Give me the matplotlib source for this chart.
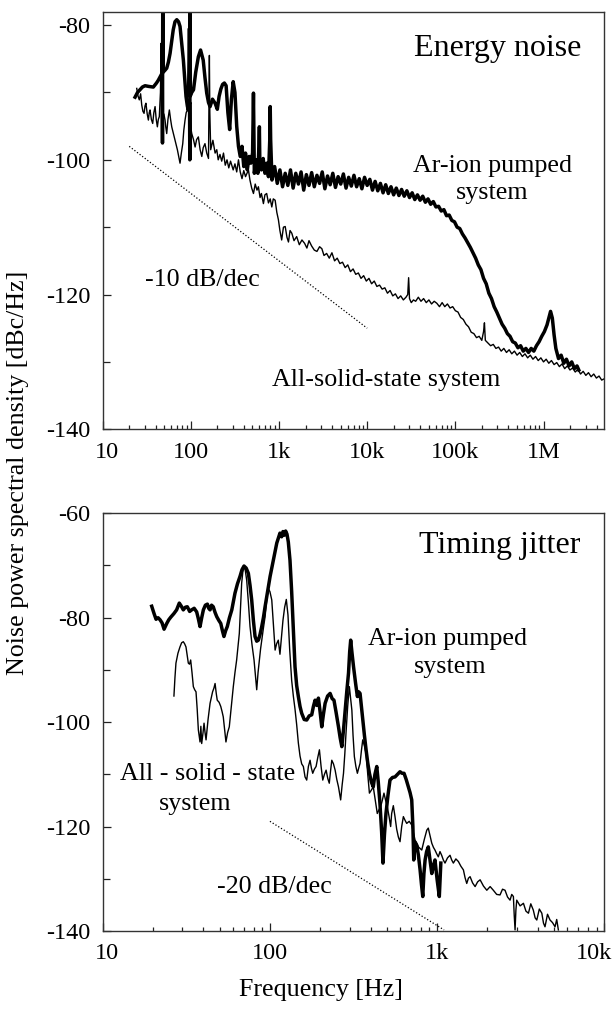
#!/usr/bin/env python
# coding: utf-8

'''
Energy noise and timing jitter spectra of the Ar-ion pumped and the
all-solid-state laser systems, two stacked log-frequency panels.

Values were read off the original figure by eye.
Frequencies are kept as log10(f/Hz), levels in dBc/Hz.
'''

import numpy as np
import matplotlib
matplotlib.use('Agg')
import matplotlib.pyplot as plt
import matplotlib.transforms as mtransforms
from matplotlib.ticker import FixedLocator, NullFormatter

plt.rcParams['font.family'] = ['Liberation Serif', 'DejaVu Serif']
plt.rcParams['axes.unicode_minus'] = False

# ---------------- energy noise, Ar-ion pumped (thick) ----------------
en_ar_logf = [1.367, 1.395, 1.423, 1.45, 1.48, 1.52, 1.574, 1.61, 1.63, 1.65, 1.675, 1.678, 1.681, 1.684,
              1.70, 1.726, 1.745, 1.764, 1.782, 1.80, 1.82, 1.84, 1.86, 1.877, 1.895, 1.915, 1.93, 1.945,
              1.96, 1.97, 1.985, 1.988, 1.991, 1.994, 2.01, 2.03, 2.055, 2.085, 2.11, 2.14, 2.16, 2.18,
              2.20, 2.218, 2.245, 2.275, 2.30, 2.32, 2.34, 2.36, 2.38, 2.40, 2.42, 2.44, 2.46, 2.48, 2.50,
              2.52, 2.54, 2.56, 2.58, 2.60, 2.62, 2.64, 2.66, 2.68, 2.70, 2.705, 2.71, 2.715, 2.72, 2.74,
              2.76, 2.772, 2.777, 2.782, 2.80, 2.82, 2.84, 2.86, 2.88, 2.895, 2.90, 2.905, 2.92,
              2.95, 2.98, 3.01, 3.04, 3.07, 3.10, 3.13, 3.16, 3.19, 3.22, 3.25, 3.28, 3.31, 3.34, 3.37,
              3.40, 3.43, 3.46, 3.49, 3.52, 3.55, 3.58, 3.61, 3.64, 3.67, 3.70, 3.73, 3.76, 3.79, 3.82,
              3.85, 3.88, 3.91, 3.94, 3.97, 4.00, 4.03, 4.06, 4.09, 4.12, 4.15, 4.18, 4.21, 4.24, 4.27,
              4.30, 4.33, 4.36, 4.39, 4.42, 4.45, 4.48, 4.51, 4.54, 4.57, 4.60, 4.63, 4.66, 4.69, 4.72,
              4.75, 4.78, 4.81, 4.84, 4.87, 4.90, 4.93, 4.96, 4.99, 5.02, 5.05, 5.08, 5.11, 5.14, 5.17,
              5.20, 5.23, 5.26, 5.29, 5.32, 5.35, 5.38, 5.41, 5.44, 5.47, 5.50, 5.53, 5.56, 5.59, 5.62,
              5.65, 5.68, 5.71, 5.74, 5.77, 5.80, 5.83, 5.86, 5.89, 5.92, 5.95, 5.98, 6.01, 6.04, 6.06,
              6.08, 6.10, 6.12, 6.14, 6.17, 6.20, 6.23, 6.26, 6.29, 6.32, 6.35, 6.38, 6.40]
en_ar_db = [-90.7, -90.0, -89.6, -89.2, -89.0, -89.1, -89.2, -88.6, -88.2, -87.7, -87.1, -97.5, -76.0, -87.0,
            -86.8, -86.4, -85.5, -84.2, -82.4, -80.7, -79.5, -79.2, -79.5, -80.2, -82.5, -85.2, -88.0, -90.6,
            -92.0, -92.6, -91.5, -100.0, -76.0, -90.5, -90.0, -89.6, -87.0, -84.7, -83.7, -85.2, -87.8, -90.1,
            -91.5, -92.1, -91.0, -91.6, -92.5, -90.6, -89.5, -88.8, -88.6, -89.0, -93.0, -95.5, -91.0, -88.4, -90.0,
            -95.0, -98.0, -99.5, -98.0, -101.0, -99.0, -101.5, -99.5, -100.5, -99.0, -95.0, -90.1, -96.0, -102.0, -100.0,
            -102.0, -98.0, -95.1, -100.0, -101.5, -99.8, -102.0, -100.5, -102.5, -97.0, -92.1, -97.0, -103.0,
            -101.0, -103.5, -101.5, -104.0, -102.0, -103.8, -101.5, -104.2, -102.0, -103.6, -101.8, -104.5, -102.2, -103.8, -101.9,
            -104.0, -102.3, -103.5, -101.8, -104.3, -102.4, -103.7, -102.0, -104.1, -102.5, -103.6, -102.1, -104.2, -102.6, -103.9,
            -102.3, -104.0, -102.8, -104.3, -102.6, -103.8, -102.9, -104.5, -103.2, -104.6, -103.5, -104.9, -103.7, -105.0, -104.0,
            -105.2, -104.2, -105.3, -104.4, -105.4, -104.6, -105.6, -104.9, -105.9, -105.2, -106.0, -105.4, -106.3, -105.8, -106.6,
            -106.2, -107.0, -106.9, -107.6, -107.4, -108.3, -108.2, -109.0, -109.2, -110.0, -110.2, -111.0, -111.6, -112.3, -113.0,
            -113.8, -114.6, -115.6, -116.3, -117.6, -118.4, -119.8, -120.6, -121.8, -122.6, -123.5, -124.4, -125.0, -125.8, -126.2,
            -127.0, -127.2, -127.9, -127.6, -128.4, -128.0, -128.6, -128.0, -128.4, -127.6, -127.0, -126.2, -125.5, -124.5, -123.5,
            -122.5, -123.5, -126.0, -128.0, -129.5, -129.0, -130.2, -129.6, -130.6, -130.0, -131.0, -130.6, -131.2]

# ---------------- energy noise, all-solid-state (thin) ----------------
en_ss_logf = [1.386, 1.40, 1.415, 1.43, 1.443, 1.456, 1.469, 1.48, 1.49, 1.505, 1.518, 1.528, 1.537, 1.552,
              1.567, 1.58, 1.594, 1.607, 1.62, 1.631, 1.642, 1.655, 1.662, 1.668, 1.68, 1.694, 1.707, 1.716,
              1.726, 1.74, 1.756, 1.77, 1.783, 1.80, 1.82, 1.835, 1.847, 1.86, 1.877, 1.892, 1.908, 1.92,
              1.934, 1.947, 1.96, 1.966, 1.972, 1.978, 1.99, 2.01, 2.03, 2.048, 2.065, 2.085, 2.105, 2.124,
              2.14, 2.16, 2.18, 2.20, 2.205, 2.21, 2.215, 2.225, 2.25, 2.275, 2.294, 2.31, 2.33, 2.35, 2.37,
              2.39, 2.41, 2.43, 2.45, 2.48, 2.50, 2.52, 2.54, 2.56, 2.58, 2.60, 2.62, 2.653, 2.67, 2.69,
              2.71, 2.73, 2.75, 2.766, 2.785, 2.80, 2.823, 2.84, 2.86, 2.88, 2.90, 2.918, 2.935, 2.956,
              2.975, 2.993, 3.01, 3.03, 3.05, 3.07, 3.09, 3.107, 3.125, 3.145, 3.17, 3.20, 3.23, 3.26, 3.29,
              3.316, 3.34, 3.37, 3.40, 3.43, 3.46, 3.486, 3.51, 3.54, 3.57, 3.60, 3.63, 3.66, 3.69, 3.72,
              3.75, 3.78, 3.81, 3.84, 3.87, 3.90, 3.93, 3.96, 3.99, 4.02, 4.05, 4.08, 4.11, 4.14, 4.17,
              4.20, 4.23, 4.26, 4.29, 4.32, 4.35, 4.38, 4.41, 4.44, 4.46, 4.47, 4.48, 4.50, 4.525, 4.55,
              4.58, 4.61, 4.64, 4.67, 4.70, 4.73, 4.76, 4.79, 4.82, 4.85, 4.88, 4.91, 4.94, 4.97, 5.00,
              5.03, 5.06, 5.09, 5.12, 5.15, 5.18, 5.21, 5.24, 5.27, 5.30, 5.32, 5.33, 5.34, 5.37, 5.40,
              5.43, 5.46, 5.49, 5.52, 5.55, 5.58, 5.61, 5.64, 5.67, 5.70, 5.73, 5.76, 5.79, 5.82, 5.85,
              5.88, 5.91, 5.94, 5.97, 6.00, 6.03, 6.06, 6.09, 6.12, 6.15, 6.18, 6.21, 6.24, 6.27, 6.30,
              6.33, 6.36, 6.39, 6.42, 6.45, 6.48, 6.51, 6.54, 6.57, 6.60, 6.63, 6.66, 6.69]
en_ss_db = [-89.4, -90.5, -91.1, -90.2, -91.9, -92.8, -93.1, -92.0, -91.6, -93.2, -94.1, -93.0, -92.6, -94.0,
            -94.6, -93.0, -92.1, -94.0, -95.1, -94.0, -93.6, -90.0, -82.7, -92.0, -94.5, -93.2, -94.1, -95.2,
            -96.1, -94.0, -92.6, -94.0, -95.1, -96.0, -97.1, -97.8, -98.5, -99.4, -100.5, -99.0, -97.6, -95.6,
            -94.1, -93.0, -92.6, -86.0, -80.5, -89.0, -94.5, -96.1, -97.0, -98.1, -97.0, -96.6, -98.5, -99.5,
            -98.2, -97.6, -99.0, -99.8, -92.0, -84.5, -93.0, -98.5, -97.1, -99.0, -98.5, -100.0, -99.2, -100.2, -99.0,
            -100.8, -100.0, -101.2, -100.2, -101.5, -100.6, -101.8, -100.0, -101.8, -102.8, -101.6, -102.5, -101.5, -103.0, -104.2,
            -105.0, -103.6, -104.5, -104.0, -105.6, -105.0, -106.5, -105.2, -105.0, -106.4, -105.8, -107.0, -105.8, -106.0,
            -107.8, -108.9, -110.5, -111.9, -110.0, -109.9, -111.5, -112.2, -110.5, -110.9, -112.0, -111.4, -112.6, -111.9, -112.4,
            -113.1, -112.0, -112.8, -113.4, -113.6, -112.9, -113.2, -114.2, -113.9, -114.6, -113.8, -115.0, -114.6, -115.4, -115.2,
            -116.0, -115.6, -116.6, -116.2, -117.0, -116.8, -117.6, -117.2, -118.0, -117.6, -118.4, -118.0, -118.8, -118.6, -119.2,
            -119.0, -119.8, -119.4, -120.2, -119.9, -120.6, -120.2, -120.8, -120.4, -120.0, -117.5, -120.6, -121.2, -120.8, -121.0,
            -120.4, -121.0, -120.6, -121.2, -120.8, -121.4, -121.0, -121.3, -121.8, -121.2, -121.8, -121.4, -122.0, -121.8, -122.4,
            -122.6, -123.4, -123.7, -124.4, -124.8, -125.6, -125.8, -126.4, -126.2, -126.8, -125.5, -124.2, -126.8, -127.2, -127.6,
            -127.4, -128.0, -127.8, -128.4, -128.0, -128.6, -128.2, -128.8, -128.4, -129.0, -128.6, -129.2, -128.8, -129.4, -129.0,
            -129.6, -129.2, -129.8, -129.4, -130.0, -129.6, -130.2, -129.8, -130.4, -130.1, -130.7, -130.3, -131.0, -130.6, -131.2,
            -130.9, -131.5, -131.1, -131.8, -131.4, -132.0, -131.6, -132.2, -131.8, -132.4, -132.1, -132.7, -132.5]

# ---------------- timing jitter, Ar-ion pumped (thick) ----------------
tj_ar_logf = [1.293, 1.307, 1.319, 1.331, 1.343, 1.355, 1.367, 1.383, 1.395, 1.407, 1.426, 1.442, 1.458, 1.47,
              1.482, 1.494, 1.506, 1.52, 1.532, 1.547, 1.562, 1.572, 1.582, 1.592, 1.602, 1.614, 1.626, 1.634,
              1.642, 1.651, 1.661, 1.672, 1.682, 1.694, 1.706, 1.716, 1.725, 1.735, 1.745, 1.758, 1.772, 1.781,
              1.791, 1.806, 1.821, 1.833, 1.845, 1.858, 1.871, 1.881, 1.891, 1.901, 1.911, 1.921, 1.931, 1.941,
              1.951, 1.961, 1.971, 1.986, 2.001, 2.011, 2.02, 2.031, 2.041, 2.05, 2.06, 2.07, 2.078, 2.086,
              2.094, 2.102, 2.11, 2.12, 2.13, 2.14, 2.15, 2.16, 2.17, 2.18, 2.19, 2.205, 2.22, 2.235, 2.25,
              2.26, 2.27, 2.28, 2.29, 2.30, 2.31, 2.32, 2.33, 2.345, 2.36, 2.372, 2.383, 2.395, 2.41, 2.42,
              2.43, 2.44, 2.45, 2.46, 2.47, 2.477, 2.483, 2.49, 2.50, 2.512, 2.523, 2.531, 2.539, 2.547,
              2.555, 2.565, 2.575, 2.585, 2.595, 2.607, 2.618, 2.628, 2.639, 2.648, 2.658, 2.668, 2.676,
              2.685, 2.694, 2.706, 2.718, 2.733, 2.748, 2.763, 2.778, 2.79, 2.802, 2.815, 2.828, 2.838,
              2.848, 2.855, 2.86, 2.868, 2.878, 2.888, 2.898, 2.906, 2.914, 2.921, 2.928, 2.937, 2.947,
              2.958, 2.968, 2.978, 2.987, 2.994, 3.0, 3.007, 3.013, 3.018, 3.022]
tj_ar_db = [-77.8, -79.2, -80.3, -80.0, -80.4, -81.0, -82.2, -81.1, -80.4, -79.9, -79.2, -78.5, -77.2, -77.8,
            -78.5, -78.0, -77.9, -78.8, -78.5, -78.2, -78.9, -80.2, -81.7, -80.0, -78.5, -77.6, -77.4, -78.2,
            -78.5, -77.6, -77.9, -79.0, -79.8, -80.5, -81.1, -82.5, -83.6, -82.5, -81.7, -80.0, -78.5, -77.0,
            -75.3, -73.5, -72.1, -70.8, -70.1, -70.5, -71.5, -73.8, -76.6, -80.5, -83.6, -84.5, -84.3, -83.2,
            -81.7, -80.0, -77.9, -75.0, -72.1, -70.5, -69.0, -67.2, -65.7, -64.8, -63.8, -64.5, -63.5, -64.2,
            -63.4, -64.0, -65.5, -69.0, -75.0, -82.0, -89.4, -93.0, -95.1, -97.0, -98.3, -99.5, -99.6, -98.8, -98.6,
            -97.0, -95.8, -96.8, -95.4, -98.0, -100.9, -98.5, -96.4, -95.0, -94.5, -95.5, -95.8, -98.0, -100.9, -103.0,
            -104.7, -101.5, -97.7, -94.0, -90.6, -86.5, -84.3, -86.5, -89.4, -92.5, -95.1, -94.2, -94.5, -97.0,
            -99.6, -102.5, -105.3, -107.8, -109.8, -111.5, -112.4, -110.0, -108.5, -111.5, -115.6, -121.0, -127.0,
            -121.5, -117.5, -114.0, -111.1, -110.6, -110.5, -110.0, -109.5, -109.8, -109.8, -111.0, -112.4, -113.5,
            -114.9, -120.0, -126.4, -123.0, -123.6, -125.5, -128.3, -131.0, -133.4, -129.0, -126.4, -124.8, -123.9,
            -126.5, -129.0, -127.5, -126.4, -128.5, -130.2, -132.0, -133.4, -130.0, -127.0]

# ---------------- timing jitter, all-solid-state (thin) ----------------
tj_ss_logf = [1.426, 1.432, 1.438, 1.45, 1.462, 1.472, 1.482, 1.49, 1.498, 1.505, 1.512, 1.519, 1.526, 1.534,
              1.542, 1.55, 1.558, 1.565, 1.572, 1.582, 1.587, 1.592, 1.60, 1.606, 1.612, 1.618, 1.63, 1.642,
              1.657, 1.665, 1.672, 1.679, 1.685, 1.696, 1.706, 1.714, 1.721, 1.729, 1.737, 1.747, 1.757, 1.769,
              1.781, 1.791, 1.801, 1.809, 1.817, 1.824, 1.831, 1.838, 1.845, 1.853, 1.861, 1.871, 1.881, 1.893,
              1.905, 1.913, 1.921, 1.929, 1.937, 1.944, 1.951, 1.961, 1.971, 1.981, 1.99, 2.0, 2.011, 2.021,
              2.031, 2.04, 2.05, 2.06, 2.068, 2.078, 2.088, 2.098, 2.108, 2.118, 2.13, 2.14, 2.15, 2.16,
              2.17, 2.18, 2.19, 2.20, 2.21, 2.22, 2.23, 2.24, 2.248, 2.256, 2.266, 2.276, 2.286, 2.296,
              2.306, 2.316, 2.326, 2.336, 2.346, 2.355, 2.362, 2.37, 2.38, 2.39, 2.40, 2.41, 2.417, 2.423,
              2.432, 2.44, 2.448, 2.455, 2.465, 2.475, 2.483, 2.49, 2.497, 2.505, 2.514, 2.523, 2.531, 2.539,
              2.547, 2.555, 2.565, 2.575, 2.585, 2.595, 2.607, 2.618, 2.63, 2.642, 2.652, 2.662, 2.672, 2.682,
              2.692, 2.702, 2.712, 2.722, 2.728, 2.738, 2.748, 2.758, 2.768, 2.778, 2.788, 2.798, 2.808, 2.818,
              2.833, 2.848, 2.858, 2.868, 2.878, 2.888, 2.898, 2.908, 2.923, 2.938, 2.947, 2.958, 2.968, 2.978,
              2.987, 2.997, 3.007, 3.017, 3.027, 3.037, 3.047, 3.062, 3.077, 3.087, 3.097, 3.112, 3.127, 3.142,
              3.157, 3.167, 3.177, 3.187, 3.197, 3.212, 3.227, 3.242, 3.257, 3.277, 3.297, 3.317, 3.336, 3.356,
              3.376, 3.391, 3.406, 3.421, 3.436, 3.446, 3.456, 3.461, 3.466, 3.471, 3.476, 3.496, 3.516, 3.531,
              3.546, 3.56, 3.575, 3.586, 3.596, 3.611, 3.626, 3.636, 3.645, 3.66, 3.675, 3.69, 3.705, 3.715, 3.725]
tj_ss_db = [-95.0, -91.5, -88.7, -86.8, -85.6, -84.8, -84.6, -85.0, -85.6, -87.2, -88.7, -88.9, -88.1, -90.5,
            -93.2, -93.8, -94.2, -97.5, -101.5, -103.8, -100.8, -104.1, -102.0, -100.2, -102.0, -103.4, -99.5, -96.4,
            -94.2, -93.5, -92.6, -94.5, -95.8, -96.2, -97.0, -98.0, -99.0, -101.5, -103.8, -102.0, -100.9, -97.0,
            -93.2, -90.5, -88.1, -85.5, -83.0, -78.0, -73.4, -71.2, -70.2, -71.0, -72.8, -77.0, -81.7, -85.2,
            -88.1, -91.0, -93.8, -90.5, -88.1, -86.0, -84.3, -82.0, -79.8, -76.5, -74.4, -75.0, -76.6, -81.5,
            -86.2, -85.0, -84.3, -87.0, -84.0, -80.5, -78.0, -76.5, -79.5, -86.0, -92.0, -95.0, -97.5, -100.5,
            -104.0, -106.5, -108.0, -108.5, -110.5, -111.1, -108.5, -107.3, -108.8, -109.8, -109.0, -108.5, -106.8, -105.3,
            -108.5, -111.1, -110.0, -109.2, -110.8, -111.7, -109.5, -107.3, -108.0, -109.2, -111.0, -112.4, -113.8, -114.9,
            -112.0, -109.8, -106.0, -102.1, -97.0, -93.2, -95.5, -97.7, -102.5, -106.6, -108.5, -109.8, -108.8, -107.9,
            -105.5, -103.4, -104.5, -106.0, -110.0, -113.6, -113.0, -112.4, -115.0, -117.5, -116.8, -116.2, -115.0, -113.6,
            -115.0, -116.2, -118.0, -120.0, -117.5, -116.0, -118.1, -120.5, -122.0, -122.9, -120.0, -118.1, -118.8, -119.4,
            -119.0, -119.7, -121.2, -122.6, -123.2, -123.9, -124.2, -124.5, -122.5, -120.7, -120.3, -121.8, -123.2, -124.0,
            -124.5, -125.2, -125.8, -124.8, -125.5, -126.4, -127.0, -126.0, -125.5, -126.4, -127.0, -126.2, -126.7, -127.6,
            -128.3, -129.8, -130.9, -129.9, -129.6, -130.8, -131.5, -130.6, -130.2, -131.4, -132.2, -131.5, -132.2, -133.0,
            -133.1, -132.0, -132.2, -133.5, -134.1, -133.0, -133.4, -137.0, -139.8, -136.0, -134.1, -135.2, -134.7, -136.2,
            -136.6, -134.8, -136.0, -137.5, -137.9, -135.8, -136.6, -138.5, -139.2, -136.8, -137.9, -138.4, -139.2, -137.8, -139.8]

# slope guide lines (end points, Hz and dBc/Hz)
en_slope_f = [20, 10000]
en_slope_db = [-98.0, -125.0]
tj_slope_f = [100, 1100]
tj_slope_db = [-119.0, -139.8]

en_ticks = [10, 100, 1e3, 1e4, 1e5, 1e6]
en_ticklabels = ['10', '100', '1k', '10k', '100k', '1M']
tj_ticks = [10, 100, 1e3, 1e4]
tj_ticklabels = ['10', '100', '1k', '10k']

THICK = 2.5
THIN = 1.0
TXT = 18.7


def style_axis(ax, xlim, ylim, xticks, xticklabels, ymajor, yminor):
    ax.set_xscale('log')
    ax.set_xlim(xlim)
    ax.set_ylim(ylim)
    ax.xaxis.set_major_locator(FixedLocator(xticks))
    ax.set_xticklabels(xticklabels)
    minors = []
    for d in range(1, 7):
        for s in range(2, 10):
            minors.append(s * 10.0 ** d)
    ax.xaxis.set_minor_locator(FixedLocator(minors))
    ax.xaxis.set_minor_formatter(NullFormatter())
    ax.set_yticks(ymajor)
    ax.yaxis.set_minor_locator(FixedLocator(yminor))
    ax.tick_params(axis='both', which='both', direction='in', top=False, right=False,
                   color='#222222', width=0.9, labelsize=17.5)
    ax.tick_params(axis='x', which='major', length=5.5, pad=9)
    ax.tick_params(axis='x', which='minor', length=3.0)
    ax.tick_params(axis='y', which='major', length=6.0, pad=9)
    ax.tick_params(axis='y', which='minor', length=5.0)
    for sp in ax.spines.values():
        sp.set_linewidth(1.0)
        sp.set_color('#333333')
    # first label sits a little right of the spine, as in the original
    labs = ax.get_xticklabels()
    labs[0].set_transform(labs[0].get_transform() +
                          mtransforms.ScaledTranslation(4 / 100, 0, fig.dpi_scale_trans))


fig = plt.figure(figsize=(6.15, 10.16), dpi=100)

# ---- top panel: energy noise
ax1 = fig.add_axes([0.167, 0.5775, 0.8157, 0.4104])
ax1.plot(10 ** np.array(en_ss_logf), en_ss_db, color='black', lw=THIN)
ax1.plot(10 ** np.array(en_ar_logf), en_ar_db, color='black', lw=THICK)
ax1.plot(en_slope_f, en_slope_db, color='black', lw=0.9, linestyle=(0, (1, 1.6)))
style_axis(ax1, (10, 4.9e6), (-140, -78.1), en_ticks, en_ticklabels,
           [-140, -120, -100, -80], [-130, -110, -90])
ax1.text(2.7e6, -83.5, 'Energy noise', fontsize=23, ha='right', va='center')
ax1.text(2.63e5, -100.9, 'Ar-ion pumped', fontsize=TXT, ha='center', va='center')
ax1.text(2.63e5, -104.9, 'system', fontsize=TXT, ha='center', va='center')
ax1.text(135, -117.8, '-10 dB/dec', fontsize=TXT, ha='center', va='center')
ax1.text(1.64e4, -132.7, 'All-solid-state system', fontsize=TXT, ha='center', va='center')

# ---- bottom panel: timing jitter
ax2 = fig.add_axes([0.167, 0.0837, 0.8157, 0.4111])
ax2.plot(10 ** np.array(tj_ss_logf), tj_ss_db, color='black', lw=THIN)
ax2.plot(10 ** np.array(tj_ar_logf), tj_ar_db, color='black', lw=THICK)
ax2.plot(tj_slope_f, tj_slope_db, color='black', lw=0.9, linestyle=(0, (1, 1.6)))
style_axis(ax2, (10, 1e4), (-140, -60), tj_ticks, tj_ticklabels,
           [-140, -120, -100, -80, -60], [-130, -110, -90, -70])
# last label pulled in from the figure edge
lab = ax2.get_xticklabels()[-1]
lab.set_transform(lab.get_transform() +
                  mtransforms.ScaledTranslation(-10 / 100, 0, fig.dpi_scale_trans))
ax2.text(7200, -66.2, 'Timing jitter', fontsize=23, ha='right', va='center')
ax2.text(1160, -84.0, 'Ar-ion pumped', fontsize=TXT, ha='center', va='center')
ax2.text(1200, -89.5, 'system', fontsize=TXT, ha='center', va='center')
ax2.text(42.7, -110.0, 'All - solid - state', fontsize=TXT, ha='center', va='center')
ax2.text(35.7, -115.6, 'system', fontsize=TXT, ha='center', va='center')
ax2.text(107, -131.6, '-20 dB/dec', fontsize=TXT, ha='center', va='center')

fig.text(0.030, 0.535, 'Noise power spectral density [dBc/Hz]', fontsize=TXT,
         rotation=90, ha='center', va='center')
fig.text(0.522, 0.026, 'Frequency [Hz]', fontsize=TXT, ha='center', va='center')

fig.savefig('out.png', dpi=100)
